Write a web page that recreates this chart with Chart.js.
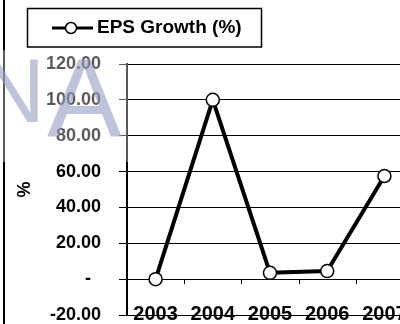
<!DOCTYPE html>
<html>
<head>
<meta charset="utf-8">
<script src="https://cdn.jsdelivr.net/npm/chart.js@4.4.1/dist/chart.umd.min.js"></script>
<style>
  html, body { margin: 0; padding: 0; background: #fff; overflow: hidden; width: 400px; height: 324px; }
  #wrap { position: relative; width: 413px; height: 324px; }
</style>
</head>
<body>
<div id="wrap"><canvas id="chart"></canvas></div>
<script>
// Chart data
const years = ['2003', '2004', '2005', '2006', '2007'];
const epsGrowth = [0, 100, 3.5, 4.5, 57.5];
const seriesName = 'EPS Growth (%)';
const yAxisTitle = '%';
const yTickValues = [-20, 0, 20, 40, 60, 80, 100, 120];
const yTickLabels = ['-20.00', '-  ', '20.00', '40.00', '60.00', '80.00', '100.00', '120.00'];

const FONT = '"Liberation Sans", Arial, sans-serif';
const INK = '#000';

// Outer frame edge and the boxed legend
const frameLegend = {
  id: 'frameLegend',
  afterDraw(chart) {
    const ctx = chart.ctx;
    const ds = chart.data.datasets[0];
    ctx.save();
    // left frame edge
    ctx.strokeStyle = INK;
    ctx.lineWidth = 2;
    ctx.beginPath();
    ctx.moveTo(4, 0);
    ctx.lineTo(4, chart.height);
    ctx.stroke();
    // legend box
    ctx.lineWidth = 1.5;
    ctx.strokeRect(27.5, 8.5, 234, 38.5);
    // legend symbol: line with hollow marker
    const sy = 28;
    ctx.lineWidth = 3;
    ctx.beginPath();
    ctx.moveTo(52, sy);
    ctx.lineTo(93, sy);
    ctx.stroke();
    ctx.beginPath();
    ctx.arc(71, sy, 5.5, 0, Math.PI * 2);
    ctx.fillStyle = ds.pointBackgroundColor;
    ctx.fill();
    ctx.lineWidth = 1.5;
    ctx.strokeStyle = ds.pointBorderColor;
    ctx.stroke();
    // legend text
    ctx.fillStyle = INK;
    ctx.font = 'bold 19px ' + FONT;
    ctx.textAlign = 'left';
    ctx.textBaseline = 'middle';
    ctx.fillText(ds.label, 97, sy);
    ctx.restore();
  }
};

// Category-boundary tick marks sitting on the zero line
const zeroLineTicks = {
  id: 'zeroLineTicks',
  beforeDatasetsDraw(chart) {
    const x = chart.scales.x, y = chart.scales.y;
    const y0 = y.getPixelForValue(0);
    const ctx = chart.ctx;
    ctx.save();
    ctx.strokeStyle = INK;
    ctx.lineWidth = 1;
    for (let i = 0; i < years.length - 1; i++) {
      const px = Math.round((x.getPixelForValue(i) + x.getPixelForValue(i + 1)) / 2) + 0.5;
      ctx.beginPath();
      ctx.moveTo(px, y0);
      ctx.lineTo(px, y0 + 5);
      ctx.stroke();
    }
    ctx.restore();
  }
};

// Faint "NA" stamp over the upper-left corner
const stamp = {
  id: 'stamp',
  afterDraw(chart) {
    const ctx = chart.ctx;
    ctx.save();
    ctx.fillStyle = 'rgba(255,255,255,0.35)';
    ctx.fillRect(0, 50, 128, 112);
    ctx.fillStyle = 'rgba(150,156,195,0.6)';
    ctx.textBaseline = 'alphabetic';
    ctx.font = '90px ' + FONT;
    ctx.fillText('N', -20, 122);
    ctx.font = '112px ' + FONT;
    ctx.fillText('A', 47, 136);
    ctx.restore();
  }
};

new Chart(document.getElementById('chart'), {
  type: 'line',
  data: {
    labels: years,
    datasets: [{
      label: seriesName,
      data: epsGrowth,
      borderColor: INK,
      borderWidth: 4,
      borderJoinStyle: 'round',
      tension: 0,
      pointRadius: 6.5,
      pointHoverRadius: 6.5,
      pointBorderWidth: 1.5,
      pointBackgroundColor: '#fff',
      pointBorderColor: INK
    }]
  },
  options: {
    responsive: true,
    maintainAspectRatio: false,
    animation: false,
    events: [],
    layout: { autoPadding: false, padding: { top: 64, left: 0, right: 0, bottom: 0 } },
    plugins: {
      legend: { display: false },
      tooltip: { enabled: false }
    },
    scales: {
      x: {
        offset: true,
        grid: { display: false, drawTicks: false },
        border: { display: false },
        afterFit(scale) {
          scale.height = 9;
          scale.paddingLeft = 0;
          scale.paddingRight = 0;
        },
        ticks: {
          color: INK,
          mirror: true,
          padding: -11,
          maxRotation: 0,
          autoSkip: false,
          font: { family: FONT, size: 20, weight: 'bold' }
        }
      },
      y: {
        min: -20,
        max: 120,
        afterFit(scale) {
          scale.width = 127;
          scale.paddingTop = 0;
          scale.paddingBottom = 0;
        },
        afterBuildTicks(scale) { scale.ticks = yTickValues.map(v => ({ value: v })); },
        title: {
          display: true,
          text: yAxisTitle,
          color: INK,
          padding: { top: 14, bottom: 0 },
          font: { family: FONT, size: 18, weight: 'bold' }
        },
        border: { display: true, color: INK, width: 2 },
        grid: { color: INK, lineWidth: 1, tickLength: 8, tickColor: INK },
        ticks: {
          color: INK,
          padding: 18,
          font: { family: FONT, size: 18, weight: 'bold', lineHeight: 1 },
          callback(value) {
            const i = yTickValues.indexOf(value);
            return i >= 0 ? yTickLabels[i] : '';
          }
        }
      }
    }
  },
  plugins: [zeroLineTicks, frameLegend, stamp]
});
</script>
</body>
</html>
